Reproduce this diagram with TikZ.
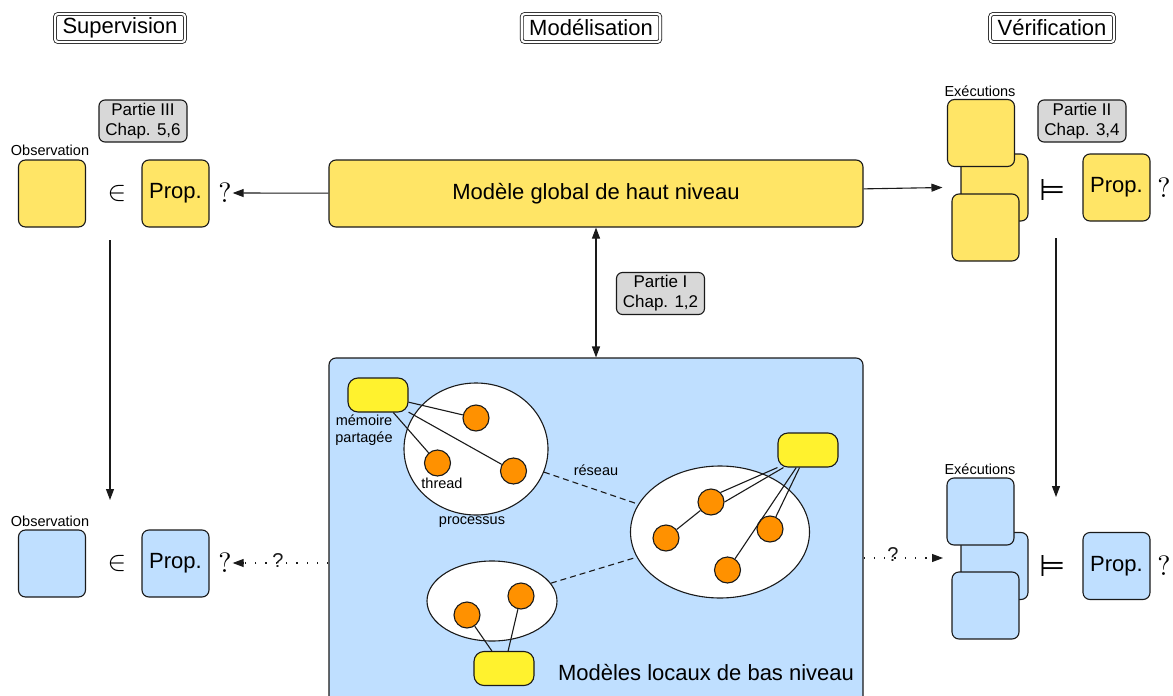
\documentclass[tikz,border=0pt]{standalone}
\usepackage{fontspec}
\setmainfont{Liberation Sans}
\newfontfamily\symfont{DejaVu Sans}
\usetikzlibrary{arrows.meta,shapes.geometric}
\definecolor{boxyellow}{HTML}{FFE566}
\definecolor{memyellow}{HTML}{FFF22E}
\definecolor{boxblue}{HTML}{BFDFFF}
\definecolor{thorange}{HTML}{FF9100}
\definecolor{taggray}{HTML}{D8D8D8}
\definecolor{ink}{HTML}{1A1A1A}
\newcommand{\bigsym}[1]{\scalebox{2.8}{$#1$}}
\newcommand{\entails}{{\symfont\fontsize{30}{34}\selectfont ⊨}}
\tikzset{
  bigfont/.style={font=\fontsize{22}{26}\selectfont},
  smallfont/.style={font=\fontsize{14.5}{17}\selectfont},
  tag/.style={draw=ink, fill=taggray, rounded corners=6pt, align=center,
    font=\fontsize{17}{20}\selectfont, minimum width=88pt, minimum height=42pt, inner sep=1pt},
  title/.style={draw=ink, double, double distance=2.2pt, line width=0.8pt, rounded corners=3pt,
    inner xsep=7.5pt, inner ysep=2.5pt, minimum height=28pt, font=\fontsize{22}{26}\selectfont},
  sq/.style={draw=ink, rounded corners=7pt, minimum size=67pt, inner sep=0pt, bigfont},
  ybox/.style={sq, fill=boxyellow},
  bbox/.style={sq, fill=boxblue},
  proc/.style={draw=ink, ellipse, fill=white, inner sep=0pt},
  thr/.style={draw=ink, circle, fill=thorange, minimum size=26pt, inner sep=0pt},
  mem/.style={draw=ink, fill=memyellow, rounded corners=10pt, minimum width=60pt, minimum height=34pt, inner sep=0pt},
  sym/.style={inner sep=0.5pt},
  dq/.style={font=\fontsize{20}{24}\selectfont, inner sep=0pt, text=ink},
  arr/.style={->, draw=ink},
  dotline/.style={draw=ink, dash pattern=on 1.3pt off 9pt},
  net/.style={draw=ink, dash pattern=on 6pt off 4pt},
}
\begin{document}
\begin{tikzpicture}[x=1pt, y=-1pt, line width=1.1pt, >={Triangle[length=11pt,width=8pt]}]
\useasboundingbox (0,0) rectangle (1173,696);

% column titles
\node[title] (tsup) at (120,28) {Supervision};
\node[title] (tmod) at (591,28) {Modélisation};
\node[title] (tver) at (1052,28) {Vérification};

% ---------- high level row ----------
\node[smallfont] (tobsl) at (50,150) {Observation};
\node[ybox] (tobs) at (52,193.5) {};
\node[sym] (tin) at (117,193) {\bigsym{\in}};
\node[ybox] (tprop) at (175.5,193.5) {Prop.};
\node[sym] (tq) at (225,193) {\bigsym{?}};
\node[tag] (p3) at (143,121) {Partie III\\Chap. 5,6};

\node[sq, fill=boxyellow, minimum width=534pt, minimum height=67pt] (global) at (596,193.5) {Modèle global de haut niveau};

\node[smallfont] (texl) at (980,91) {Exécutions};
\node[ybox] (te2) at (994.5,187.5) {};
\node[ybox] (te1) at (981,133) {};
\node[ybox] (te3) at (985.5,227.5) {};
\node[sym] (tmodels) at (1053,190) {\entails};
\node[ybox] (tvprop) at (1116.5,187.5) {Prop.};
\node[sym] (tvq) at (1164,188) {\bigsym{?}};
\node[tag] (p2) at (1082,121) {Partie II\\Chap. 3,4};

\draw[arr] (global) -- (tq);
\draw[arr] (global) -- ([xshift=-18pt]te2.west);

% ---------- low level models ----------
\node[sq, fill=boxblue, minimum width=534pt, minimum height=352pt] (local) at (596,534) {};
\draw[arr, <->] (global) -- (local);
\node[tag] (p1) at (660.5,293.5) {Partie I\\Chap. 1,2};

% processes
\node[proc, minimum width=144pt, minimum height=132pt] (pa) at (476,449) {};
\node[proc, minimum width=179pt, minimum height=132pt] (pb) at (720,532) {};
\node[proc, minimum width=130pt, minimum height=80pt] (pc) at (492,601) {};
\draw[net] (pa) -- (pb);
\draw[net] (pc) -- (pb);

% shared memories
\node[mem] (ma) at (378,395) {};
\node[mem] (mb) at (808,450) {};
\node[mem] (mc) at (504,668.5) {};

% threads
\node[thr] (a1) at (476,418) {};
\node[thr] (a2) at (437.5,463) {};
\node[thr] (a3) at (513.5,471) {};
\node[thr] (b1) at (711,502) {};
\node[thr] (b2) at (666,538) {};
\node[thr] (b3) at (770,529) {};
\node[thr] (b4) at (727.5,570) {};
\node[thr] (c1) at (467,615) {};
\node[thr] (c2) at (521,596) {};

\draw[draw=ink] (ma) -- (a1);
\draw[draw=ink] (ma) -- (a2);
\draw[draw=ink] (ma) -- (a3);
\draw[draw=ink] (mb.south west) -- (b1.north east);
\draw[draw=ink] ([xshift=6pt]mb.south west) -- (b1.east);
\draw[draw=ink] (b1) -- (b2);
\draw[draw=ink] (mb) -- (b3);
\draw[draw=ink] (mb) -- (b4);
\draw[draw=ink] (mc) -- (c1);
\draw[draw=ink] (mc) -- (c2);

% labels in the local models
\node[smallfont, align=center] (lmem) at (364,430) {mémoire\\partagée};
\node[smallfont] (lthr) at (442,483) {thread};
\node[smallfont] (lproc) at (472,522) {processus};
\node[smallfont] (lnet) at (596,470) {réseau};
\node[bigfont] (llocal) at (706,673) {Modèles locaux de bas niveau};

% ---------- low level row ----------
\node[smallfont] (bobsl) at (50,521) {Observation};
\node[bbox] (bobs) at (52,563.5) {};
\node[sym] (bin) at (117,563) {\bigsym{\in}};
\node[bbox] (bprop) at (175.5,563.5) {Prop.};
\node[sym] (bq) at (225,563) {\bigsym{?}};
\draw[dotline] (bq -| local.west) -- ([xshift=11pt]bq.east);
\node[dq] (bql) at (278,561) {?};
\draw[arr] ([xshift=11pt]bq.east) -- (bq.east);

\node[smallfont] (bexl) at (980,469) {Exécutions};
\node[bbox] (be2) at (994.5,566) {};
\node[bbox] (be1) at (980.5,511.5) {};
\node[bbox] (be3) at (985.5,605.5) {};
\node[sym] (bmodels) at (1053,566) {\entails};
\node[bbox] (bvprop) at (1116.5,566) {Prop.};
\node[sym] (bvq) at (1164,566) {\bigsym{?}};

\coordinate (bend) at (943,558);
\draw[dotline] (bend -| local.east) -- ([xshift=-11pt]bend);
\node[dq] (bqr) at (893,555) {?};
\draw[arr] ([xshift=-11pt]bend) -- (bend);

% refinement arrows between the two levels
\coordinate (ls) at (110,240);
\coordinate (le) at (110,500);
\coordinate (rs) at (1056,238);
\coordinate (re) at (1056,497);
\draw[arr] (ls) -- (le);
\draw[arr] (rs) -- (re);
\end{tikzpicture}
\end{document}
